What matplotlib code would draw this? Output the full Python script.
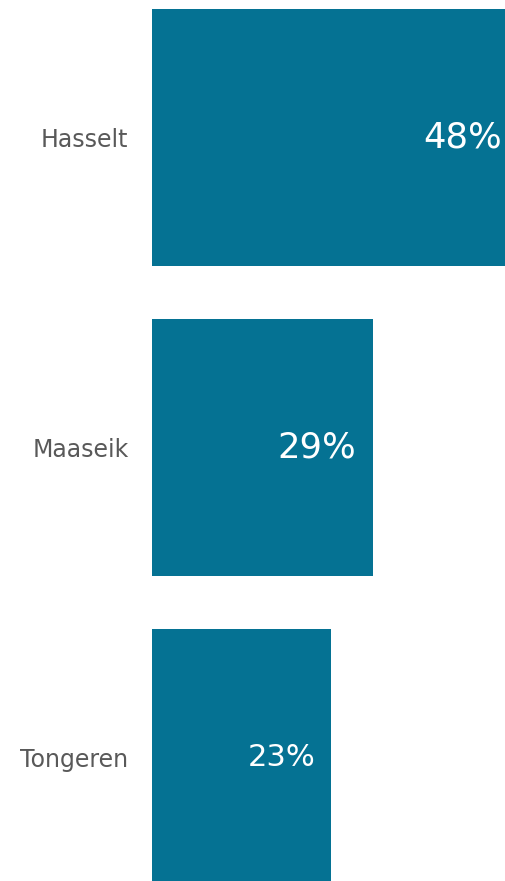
import numpy as np
import matplotlib.pyplot as plt

# data
cities = ['Hasselt', 'Maaseik', 'Tongeren']
shares = np.array([48, 29, 23])
labels = ['48%', '29%', '23%']
base = -2.7  # axis start used by the original chart

# label styling per bar
label_sizes = [25.5, 25.5, 22]
label_inset = [2, 12, 11]  # points from bar end

bar_color = '#057293'
text_color = '#595959'

plt.rcParams['font.family'] = ['DejaVu Sans']

fig = plt.figure(figsize=(5.05, 8.81), dpi=100)
ax = fig.add_axes([152 / 505, 0, 1 - 152 / 505, 1])

y = np.arange(len(cities))
ax.barh(y, shares - base, left=base, height=0.83, color=bar_color)

for yi, v, lab, fs, ins in zip(y, shares, labels, label_sizes, label_inset):
    ax.annotate(lab, (v, yi), xytext=(-ins, 0), textcoords='offset points',
                ha='right', va='center', color='white', fontsize=fs)

ax.set_xlim(base, 48)
ax.set_ylim(2.398, -0.4435)
ax.set_yticks(y)
ax.set_yticklabels(cities, fontsize=17, color=text_color)
ax.tick_params(axis='y', length=0, pad=17)
ax.set_xticks([])
for s in ax.spines.values():
    s.set_visible(False)

fig.savefig('out.png', dpi=100)
